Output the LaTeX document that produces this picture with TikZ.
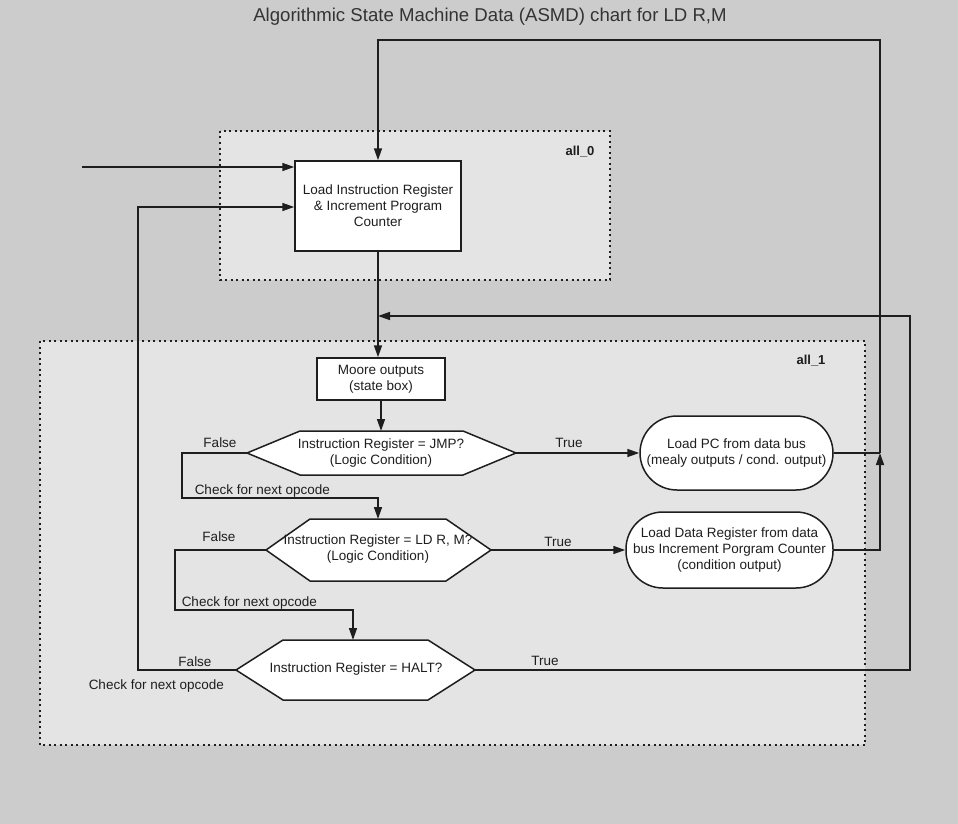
\documentclass[tikz,border=0pt]{standalone}
\usepackage{fontspec}
\setmainfont{Liberation Sans}
\usetikzlibrary{arrows.meta,calc}
\definecolor{bggray}{HTML}{CCCCCC}
\definecolor{panel}{HTML}{E4E4E4}
\definecolor{ink}{HTML}{1E1E1E}
\definecolor{titleink}{HTML}{333333}
\begin{document}
\begin{tikzpicture}[x=1pt,y=-1pt,
  line width=1.5pt,
  every node/.style={font=\fontsize{13.5}{16}\selectfont, text=ink, inner sep=0pt},
  arr/.style={draw=ink, -{Triangle[length=12pt,width=8pt]}},
  wire/.style={draw=ink},
  zone/.style={draw=ink, fill=panel, line width=1.5pt, dash pattern=on 2pt off 3.5pt},
  stbox/.style={draw=ink, fill=white, align=center},
  pill/.style={draw=ink, fill=white, align=center, rounded corners=37pt},
  hexa/.style={draw=ink, fill=white},
  lbl/.style={anchor=base west},
  zonelbl/.style={font=\fontsize{13}{15}\selectfont\bfseries}
]
% canvas
\fill[bggray] (0,0) rectangle (958,824);
\useasboundingbox (0,0) rectangle (958,824);

\node[font=\fontsize{18.6}{22}\selectfont, text=titleink] (title) at (490,17) {Algorithmic State Machine Data (ASMD) chart for LD R,M};

% state regions
\draw[zone] (220,131) rectangle (610,280);
\node[zonelbl] (z0) at (580,152) {all\_0};
\draw[zone] (40,341) rectangle (865,745);
\node[zonelbl] (z1) at (811,361) {all\_1};

% state box of all_0
\node[stbox, minimum width=166pt, minimum height=90pt] (ir) at (378,206)
  {Load Instruction Register\\ \& Increment Program\\ Counter};

% state box of all_1
\node[stbox, minimum width=128pt, minimum height=42pt] (moore) at (381,379)
  {Moore outputs\\ (state box)};

% decision: JMP
\draw[hexa] (247,453) -- (300,431) -- (463,431) -- (516,453) -- (463,475) -- (300,475) -- cycle;
\node[align=center] (jmp) at (381,453) {Instruction Register = JMP?\\ (Logic Condition)};
\coordinate (jmpN) at (381,431);
\coordinate (jmpW) at (247,453);
\coordinate (jmpE) at (516,453);

% decision: LD R, M
\draw[hexa] (266,550) -- (310,519) -- (446,519) -- (491,550) -- (446,581) -- (310,581) -- cycle;
\node[align=center] (ldrm) at (378,549) {Instruction Register = LD R, M?\\ (Logic Condition)};
\coordinate (ldrmN) at (378,519);
\coordinate (ldrmW) at (266,550);
\coordinate (ldrmE) at (491,550);

% decision: HALT
\draw[hexa] (236,670) -- (283,640) -- (428,640) -- (475,670) -- (428,700) -- (283,700) -- cycle;
\node (halt) at (356,669) {Instruction Register = HALT?};
\coordinate (haltN) at (353,640);
\coordinate (haltW) at (236,670);
\coordinate (haltE) at (475,670);

% conditional outputs
\node[pill, minimum width=193pt, minimum height=74pt] (loadpc) at (736.5,453)
  {Load PC from data bus\\ (mealy outputs / cond. output)};
\node[pill, minimum width=207pt, minimum height=76pt] (loaddata) at (729.5,550)
  {Load Data Register from data\\ bus Increment Porgram Counter\\ (condition output)};

% routing points
\coordinate (start) at (82,167);
\coordinate (retL) at (138,207);
\coordinate (joinR) at (880,453);
\coordinate (topC) at (378,40);
\coordinate (rightR) at (910,316);
\coordinate (merge) at (378,316);
\coordinate (jmpF) at (182,453);
\coordinate (jmpNext) at (378,498);
\coordinate (ldrmF) at (175,550);
\coordinate (ldrmNext) at (353,610);

% connectors
\draw[arr] (start) -- (start -| ir.west);
\draw[arr] (haltW) -| (retL) -- (retL -| ir.west);
\draw[arr] (loaddata.east) -| (joinR);
\draw[wire] (loadpc.east) -- (joinR);
\draw[arr] (joinR) |- (topC) -- (ir.north);
\draw[arr] (ir.south) -- (ir.south |- moore.north);
\draw[arr] (haltE) -| (rightR) -- (merge);
\draw[arr] (moore.south) -- (jmpN);
\draw[arr] (jmpE) -- (loadpc.west);
\draw[arr] (jmpW) -- (jmpF) |- (jmpNext) -- (ldrmN);
\draw[arr] (ldrmE) -- (loaddata.west);
\draw[arr] (ldrmW) -- (ldrmF) |- (ldrmNext) -- (haltN);

% branch labels
\node (t1) at (569,443) {True};
\node (f1) at (220,443) {False};
\node[lbl] (c1) at (194,494.5) {Check for next opcode};
\node (t2) at (558,542) {True};
\node (f2) at (219,537) {False};
\node[lbl] (c2) at (181,606.5) {Check for next opcode};
\node (t3) at (545,661) {True};
\node (f3) at (195,662) {False};
\node[lbl] (c3) at (88,689.5) {Check for next opcode};
\end{tikzpicture}
\end{document}
